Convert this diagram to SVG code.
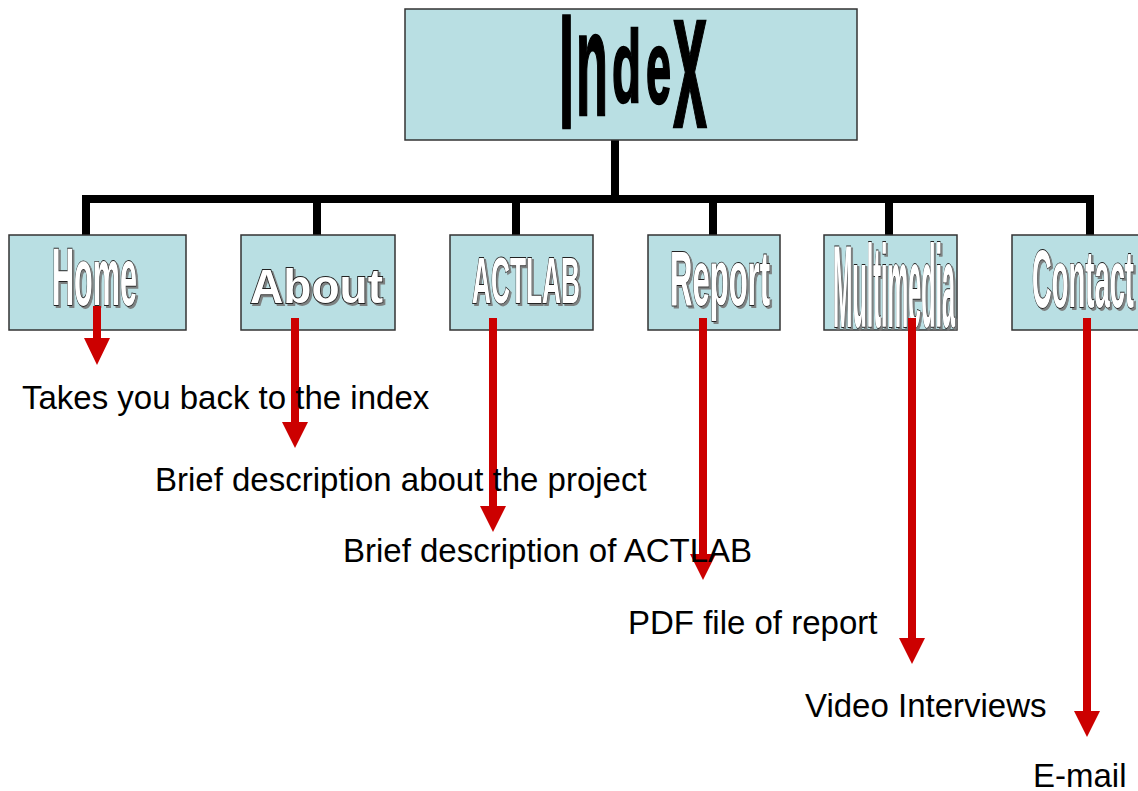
<svg xmlns="http://www.w3.org/2000/svg" width="1138" height="791" viewBox="0 0 1138 791">
<defs>
<filter id="shadow" x="-10%" y="-10%" width="130%" height="130%">
<feDropShadow dx="2" dy="2" stdDeviation="0.6" flood-color="#777" flood-opacity="0.9"/>
</filter>
<style>
.box{fill:#B9DFE3;stroke:#333;stroke-width:1.5}
.tree{stroke:#000;stroke-width:8;fill:none}
.shaft{stroke:#CC0000;stroke-width:8;fill:none}
.head{fill:#CC0000}
.desc{font-family:"Liberation Sans",Arial,sans-serif;font-size:33px;fill:#000}
.wa{font-family:"Liberation Sans",Arial,sans-serif;font-weight:bold;fill:#fff;stroke:#222;stroke-width:1.8;paint-order:stroke;filter:url(#shadow)}
.idx{font-family:"Liberation Sans",Arial,sans-serif;font-weight:bold;fill:#000;stroke:#000;stroke-width:2.5}
</style>
</defs>
<rect width="1138" height="791" fill="#fff"/>
<g id="connectors">
<path class="tree" d="M615 140V199M86 245V199H1090V245M317 199V245M516 199V245M713 199V245M889 199V257"/>
</g>
<g id="index">
<rect class="box" x="405" y="9" width="452" height="131"/>
<text class="idx"><tspan x="559" y="128" font-size="163" textLength="15" lengthAdjust="spacingAndGlyphs">I</tspan><tspan x="576" y="115" font-size="148" textLength="32" lengthAdjust="spacingAndGlyphs">n</tspan><tspan x="612" y="102" font-size="102" textLength="29" lengthAdjust="spacingAndGlyphs">d</tspan><tspan x="646" y="103" font-size="104" textLength="25" lengthAdjust="spacingAndGlyphs">e</tspan><tspan x="673" y="127" font-size="200" textLength="34" lengthAdjust="spacingAndGlyphs">x</tspan></text>
</g>
<g id="home">
<rect class="box" x="9" y="235" width="177" height="95"/>
<text class="wa" x="52" y="305" font-size="81" textLength="85" lengthAdjust="spacingAndGlyphs">Home</text>
</g>
<g id="about">
<rect class="box" x="241" y="235" width="154" height="95"/>
<text class="wa" x="250" y="303" font-size="49" textLength="133" lengthAdjust="spacingAndGlyphs">About</text>
</g>
<g id="actlab">
<rect class="box" x="450" y="235" width="143" height="95"/>
<text class="wa" x="472" y="303" font-size="64" textLength="108" lengthAdjust="spacingAndGlyphs">ACTLAB</text>
</g>
<g id="report">
<rect class="box" x="648" y="235" width="132" height="95"/>
<text class="wa" x="670" y="305" font-size="77" textLength="100" lengthAdjust="spacingAndGlyphs">Report</text>
</g>
<g id="multimedia">
<rect class="box" x="824" y="235" width="133" height="95"/>
<text class="wa" x="833" y="327" font-size="117" textLength="122" lengthAdjust="spacingAndGlyphs">Multimedia</text>
</g>
<g id="contact">
<rect class="box" x="1012" y="235" width="140" height="95"/>
<text class="wa" x="1032" y="307" font-size="82" textLength="102" lengthAdjust="spacingAndGlyphs">Contact</text>
</g>
<g id="arrows">
<path class="shaft" d="M97 306V340M295 318V424M493 318V508M703 318V556M912 318V640M1087 318V713"/>
<path class="head" d="M84 338H110L97 365Z M282 422H308L295 448Z M480 506H506L493 532Z M690 554H716L703 580Z M899 638H925L912 664Z M1074 711H1100L1087 737Z"/>
</g>
<g id="labels">
<text class="desc" x="22" y="409">Takes you back to the index</text>
<text class="desc" x="155" y="491">Brief description about the project</text>
<text class="desc" x="343" y="562">Brief description of ACTLAB</text>
<text class="desc" x="628" y="634">PDF file of report</text>
<text class="desc" x="805" y="717">Video Interviews</text>
<text class="desc" x="1033" y="787">E-mail</text>
</g>
</svg>
